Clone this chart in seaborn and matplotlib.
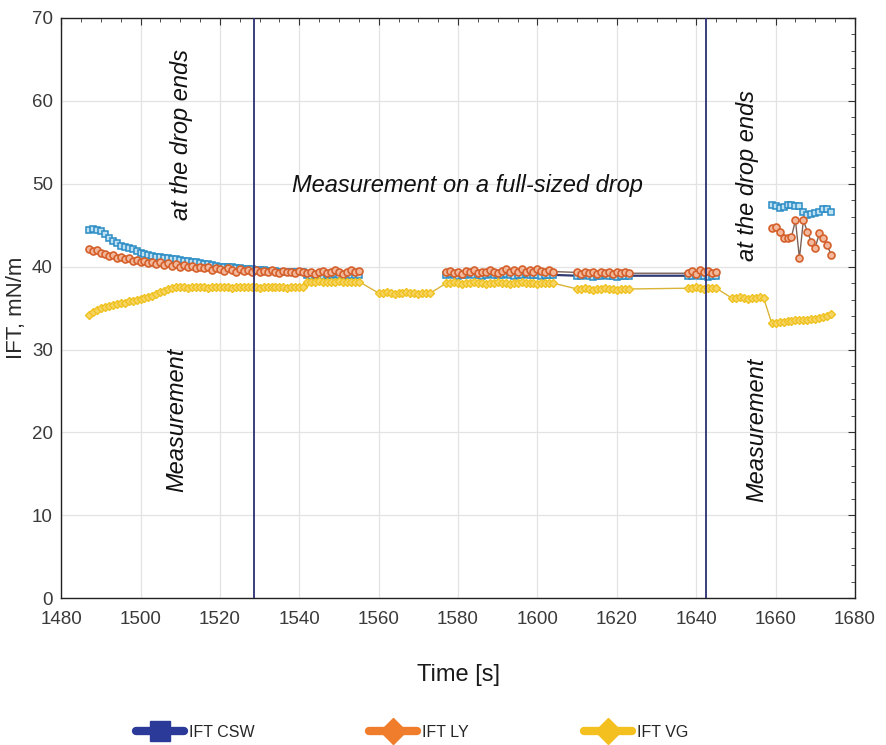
import numpy as np
import pandas as pd
import matplotlib
matplotlib.use("Agg")
import matplotlib.pyplot as plt
from matplotlib.lines import Line2D
from matplotlib.ticker import MultipleLocator
import seaborn as sns

# ---------------- data ----------------
# time stamps of each recorded segment [s]
t_a = list(range(1487, 1556))          # start of test
t_low = list(range(1560, 1574))        # VG only
t_b = list(range(1577, 1605))
t_c = list(range(1610, 1624))
t_d = list(range(1638, 1646))
t_vg_e = list(range(1649, 1658))       # VG only
t_f = list(range(1659, 1675))

csw_a = [44.4, 44.5, 44.4, 44.3, 43.9, 43.5, 43.1, 42.8, 42.5, 42.4, 42.3, 42.1, 41.9, 41.7,
         41.5, 41.4, 41.3, 41.2, 41.1, 41.0, 41.0, 40.9, 40.9, 40.8, 40.7, 40.7, 40.6, 40.5,
         40.4, 40.3, 40.3, 40.2, 40.1, 40.0, 40.0, 39.9, 39.9, 39.8, 39.8, 39.7, 39.7, 39.7,
         39.6, 39.6, 39.6, 39.5, 39.5, 39.5, 39.4, 39.4, 39.4, 39.4, 39.3, 39.3, 39.3,
         39.0, 38.9, 39.0, 39.0, 38.9, 39.0, 39.0, 39.1, 39.0, 38.9, 39.0, 39.0, 39.0, 39.0]
csw_b = [39.0, 39.1, 39.0, 38.9, 39.0, 39.0, 39.1, 39.0, 39.0, 38.9, 39.0, 39.1, 39.0, 39.0,
         39.0, 39.1, 39.0, 38.9, 39.0, 39.0, 39.1, 39.0, 39.0, 39.0, 38.9, 39.0, 39.0, 39.0]
csw_c = [38.9, 38.9, 39.0, 38.9, 38.8, 38.9, 38.9, 39.0, 38.9, 38.9, 38.8, 38.9, 38.9, 38.9]
csw_d = [38.9, 38.9, 39.0, 38.9, 38.9, 38.8, 38.9, 38.9]
csw_f = [47.4, 47.3, 47.1, 47.2, 47.4, 47.4, 47.3, 47.3, 46.6, 46.2, 46.4, 46.5, 46.6, 46.9,
         47.0, 46.6]

ly_a = [42.1, 41.9, 42.0, 41.6, 41.5, 41.3, 41.4, 41.0, 41.1, 40.9, 41.0, 40.7, 40.8, 40.6,
        40.7, 40.4, 40.6, 40.3, 40.5, 40.2, 40.4, 40.1, 40.3, 40.0, 40.2, 39.9, 40.1, 39.8,
        40.0, 39.8, 39.9, 39.6, 39.8, 39.7, 39.5, 39.8, 39.6, 39.4, 39.7, 39.5, 39.6, 39.3,
        39.6, 39.4, 39.5, 39.3, 39.6, 39.4, 39.2, 39.5, 39.3, 39.4, 39.2, 39.5, 39.3,
        39.2, 39.4, 39.1, 39.3, 39.5, 39.2, 39.4, 39.6, 39.3, 39.1, 39.4, 39.6, 39.3, 39.5]
ly_b = [39.3, 39.5, 39.2, 39.4, 39.1, 39.5, 39.3, 39.6, 39.2, 39.4, 39.3, 39.6, 39.4, 39.2,
        39.5, 39.7, 39.4, 39.6, 39.3, 39.7, 39.4, 39.6, 39.3, 39.7, 39.5, 39.3, 39.6, 39.4]
ly_c = [39.3, 39.1, 39.4, 39.2, 39.3, 39.1, 39.4, 39.2, 39.3, 39.1, 39.3, 39.2, 39.4, 39.2]
ly_d = [39.2, 39.5, 39.1, 39.6, 39.3, 39.5, 39.2, 39.4]
ly_f = [44.6, 44.8, 44.2, 43.5, 43.4, 43.6, 45.6, 41.0, 45.6, 44.2, 43.0, 42.3, 44.0, 43.4,
        42.6, 41.4]

vg_a = [34.2, 34.5, 34.8, 35.0, 35.1, 35.3, 35.4, 35.5, 35.6, 35.6, 35.8, 35.9, 36.0, 36.1,
        36.2, 36.3, 36.5, 36.7, 36.9, 37.1, 37.3, 37.4, 37.5, 37.5, 37.5, 37.4, 37.5, 37.6,
        37.5, 37.5, 37.4, 37.5, 37.5, 37.6, 37.5, 37.5, 37.4, 37.5, 37.5, 37.5, 37.6, 37.5,
        37.5, 37.4, 37.5, 37.5, 37.5, 37.6, 37.5, 37.5, 37.4, 37.5, 37.5, 37.5, 37.5,
        38.2, 38.1, 38.2, 38.3, 38.2, 38.2, 38.1, 38.2, 38.3, 38.2, 38.2, 38.1, 38.2, 38.2]
vg_low = [36.8, 36.8, 36.9, 36.8, 36.7, 36.8, 36.8, 36.9, 36.8, 36.8, 36.7, 36.8, 36.8, 36.8]
vg_b = [38.0, 38.0, 38.1, 38.0, 37.9, 38.0, 38.0, 38.1, 38.0, 38.0, 37.9, 38.0, 38.0, 38.1,
        38.0, 38.0, 37.9, 38.0, 38.0, 38.1, 38.0, 38.0, 38.0, 37.9, 38.0, 38.0, 38.0, 38.0]
vg_c = [37.3, 37.3, 37.4, 37.3, 37.2, 37.3, 37.3, 37.4, 37.3, 37.3, 37.2, 37.3, 37.3, 37.3]
vg_d = [37.4, 37.4, 37.5, 37.4, 37.3, 37.4, 37.4, 37.4]
vg_e = [36.2, 36.2, 36.3, 36.2, 36.1, 36.2, 36.2, 36.3, 36.2]
vg_f = [33.2, 33.2, 33.3, 33.3, 33.4, 33.4, 33.5, 33.5, 33.6, 33.6, 33.7, 33.7, 33.8, 33.9,
        34.1, 34.3]

series_names = ["IFT CSW", "IFT LY", "IFT VG"]
phase_lines = [1528.5, 1642.5]

# ---------------- tables built from the arrays ----------------
def table(parts):
    rows = []
    for run, (tt, vv) in enumerate(parts):
        for t, v in zip(tt, vv):
            rows.append((t, v, run))
    return pd.DataFrame(rows, columns=["time", "ift", "run"])

csw_df = table([(t_a, csw_a), (t_b + t_c + t_d, csw_b + csw_c + csw_d), (t_f, csw_f)])
ly_df = table([(t_a, ly_a), (t_b + t_c + t_d, ly_b + ly_c + ly_d), (t_f, ly_f)])
vg_df = table([(t_a + t_low + t_b + t_c + t_d + t_vg_e + t_f,
                vg_a + vg_low + vg_b + vg_c + vg_d + vg_e + vg_f)])

# ---------------- figure ----------------
sns.set_style("white")
plt.rcParams["font.family"] = ["Liberation Sans", "DejaVu Sans"]

fig = plt.figure(figsize=(8.86, 7.45), dpi=100)
ax = fig.add_axes([0.069, 0.197, 0.896, 0.779])

csw_kw = dict(color="#323a72", marker="s", markersize=4.5, markeredgecolor="#2a8cc4",
              markerfacecolor="#bfe1f2", markeredgewidth=1.1, linewidth=1.6)
ly_kw = dict(color="#7a6258", marker="o", markersize=5, markeredgecolor="#d5602b",
             markerfacecolor="#f1b89c", markeredgewidth=1.2, linewidth=1.0)
vg_kw = dict(color="#d9b437", marker="D", markersize=4.5, markeredgecolor="#efc21f",
             markerfacecolor="#f6d566", markeredgewidth=1.0, linewidth=1.0)

for df, kw in [(csw_df, csw_kw), (ly_df, ly_kw), (vg_df, vg_kw)]:
    for run, sub in df.groupby("run"):
        sns.lineplot(data=sub, x="time", y="ift", ax=ax, estimator=None, errorbar=None,
                     sort=True, legend=False, **kw)

for xv in phase_lines:
    ax.axvline(xv, color="#2b2f73", linewidth=1.3, zorder=5)

ax.set_xlim(1480, 1680)
ax.set_ylim(0, 70)
ax.xaxis.set_major_locator(MultipleLocator(20))
ax.xaxis.set_minor_locator(MultipleLocator(5))
ax.yaxis.set_major_locator(MultipleLocator(10))
ax.yaxis.set_minor_locator(MultipleLocator(2))
ax.grid(True, which="major", color="#e3e3e3", linewidth=0.9)
ax.tick_params(which="both", direction="in", top=True, right=True, colors="#333333",
               labelcolor="#3a3a3a")
ax.tick_params(which="major", length=5, labelsize=13.5)
ax.tick_params(axis="x", which="major", pad=9)
ax.tick_params(axis="y", which="major", pad=6)
ax.tick_params(which="minor", length=3)
for s in ax.spines.values():
    s.set_color("#222222")
    s.set_linewidth(1.0)

ax.set_xlabel("Time [s]", fontsize=17, color="#1a1a1a", labelpad=26)
ax.set_ylabel("IFT, mN/m", fontsize=16, color="#2a2a2a")
ax.yaxis.set_label_coords(-0.043, 0.5)

txt = dict(fontsize=17, style="italic", color="#111111", ha="center", va="center")
ax.text(1510.2, 55.9, "at the drop ends", rotation=90, **txt)
ax.text(1509.2, 21.5, "Measurement", rotation=90, **txt)
ax.text(1582.4, 49.8, "Measurement on a full-sized drop", **txt)
ax.text(1653.0, 51.0, "at the drop ends", rotation=90, **txt)
ax.text(1655.3, 20.3, "Measurement", rotation=90, **txt)

handles = [
    Line2D([], [], color="#2b3a98", linewidth=6, marker="s", markersize=14),
    Line2D([], [], color="#f07d2c", linewidth=6, marker="D", markersize=13),
    Line2D([], [], color="#f4c020", linewidth=6, marker="D", markersize=13),
]
fig.legend(handles, series_names, loc="center", bbox_to_anchor=(0.465, 0.017), ncol=3,
           frameon=False, fontsize=11.5, handlelength=3.0, handletextpad=0.3,
           columnspacing=7.2)

fig.savefig("out.png", dpi=100)
